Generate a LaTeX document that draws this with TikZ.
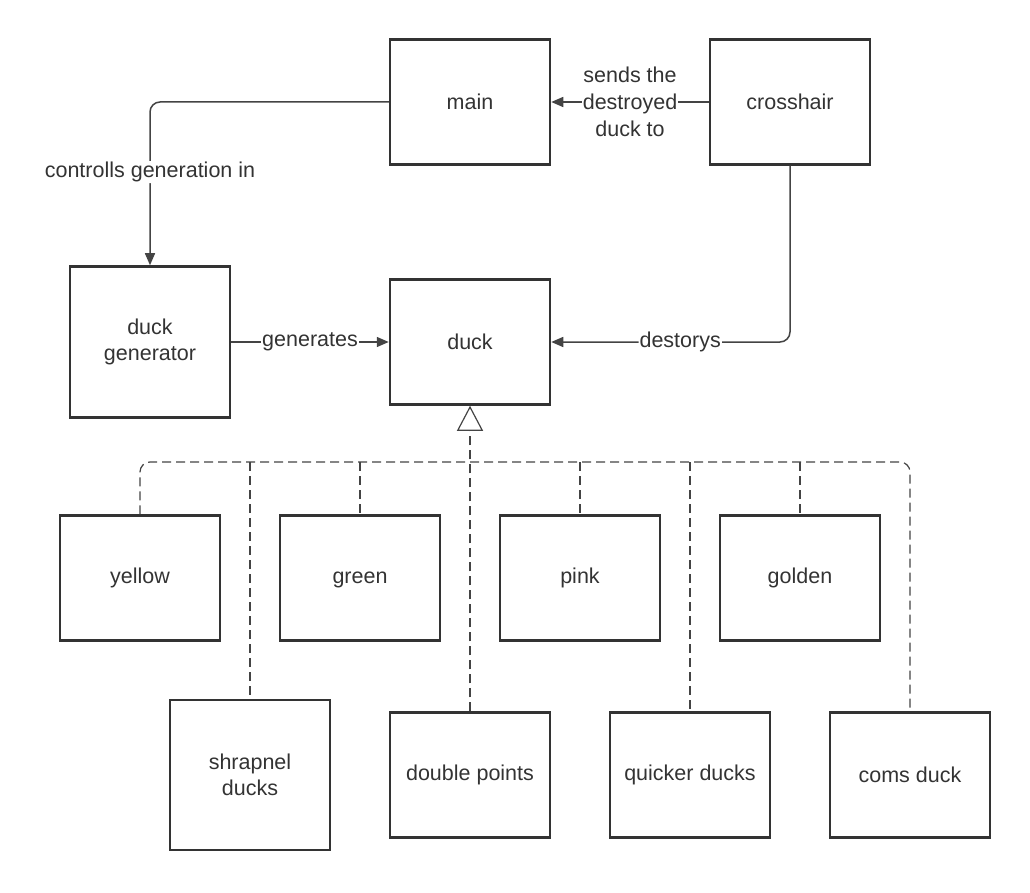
\documentclass[tikz,border=0pt]{standalone}
\usepackage{fontspec}
\setmainfont{Liberation Sans}
\usetikzlibrary{arrows.meta}
\definecolor{ink}{HTML}{333333}
\definecolor{wire}{HTML}{444444}
\tikzset{
  box/.style={draw=ink, line width=2.5pt, minimum width=160pt, minimum height=125pt, align=center, text=ink, font=\fontsize{21.5}{26}\selectfont, inner sep=0pt},
  conn/.style={draw=wire, line width=1.5pt, -{Triangle[length=12pt,width=10pt]}},
  lbl/.style={fill=white, text=ink, font=\fontsize{21.5}{27}\selectfont, align=center, inner sep=1pt},
  dsh/.style={draw=wire, line width=1.2pt, dash pattern=on 9pt off 5pt},
}
\begin{document}
\begin{tikzpicture}[x=1pt,y=-1pt]
\useasboundingbox (0,0) rectangle (1030,893);
\node[box] (main) at (470,102) {main};
\node[box] (cross) at (790,102) {crosshair};
\node[box, minimum height=151pt] (gen) at (150,342) {duck\\generator};
\node[box] (duck) at (470,342) {duck};
\node[box] (yellow) at (140,578) {yellow};
\node[box] (green) at (360,578) {\strut green};
\node[box] (pink) at (580,578) {pink};
\node[box] (golden) at (800,578) {golden};
\node[box, minimum height=150pt] (shrap) at (250,775) {shrapnel\\ducks};
\node[box] (double) at (470,775) {double points};
\node[box] (quick) at (690,775) {quicker ducks};
\node[box] (coms) at (910,775) {coms duck};
% connectors
\draw[conn, rounded corners=10pt] (main.west) -| node[lbl, pos=0.715] {controlls generation in} (gen.north);
\draw[conn] (cross.west) -- node[lbl] {sends the\\destroyed\\duck to} (main.east);
\draw[conn] (gen.east) -- node[lbl] {generates} (duck.west);
\draw[conn, rounded corners=10pt] (cross.south) |- node[lbl, pos=0.73] {destorys} (duck.east);
% inheritance
\coordinate (bus) at (470,462);
\draw[dsh, rounded corners=10pt] (yellow.north) |- (bus) -| (coms.north);
\foreach \n in {shrap,green,pink,quick,golden}{
  \draw[dsh] (\n.north |- bus) -- (\n.north);
}
\draw[dsh, -{Triangle[open,length=25pt,width=26pt]}] (double.north) -- (duck.south);
\end{tikzpicture}
\end{document}
